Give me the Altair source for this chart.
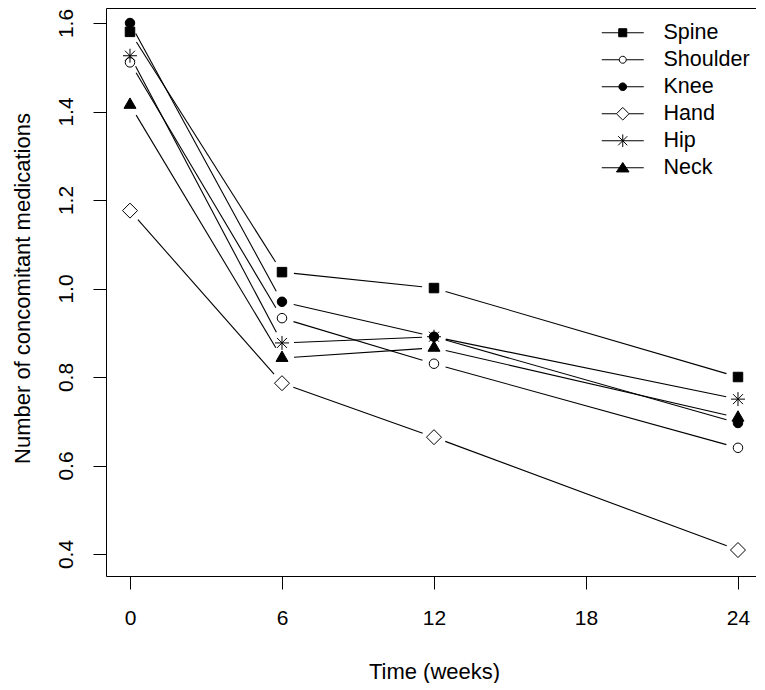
import altair as alt
import pandas as pd

# ---- data ----
sites = ["Spine", "Shoulder", "Knee", "Hand", "Hip", "Neck"]
weeks = [0, 6, 12, 24]
spine = [1.580, 1.037, 1.001, 0.800]
shoulder = [1.511, 0.933, 0.830, 0.640]
knee = [1.600, 0.970, 0.891, 0.696]
hand = [1.176, 0.786, 0.664, 0.409]
hip = [1.526, 0.877, 0.891, 0.750]
neck = [1.415, 0.843, 0.866, 0.708]

x_ticks = [0, 6, 12, 18, 24]
y_ticks = [0.4, 0.6, 0.8, 1.0, 1.2, 1.4, 1.6]

series = {"Spine": spine, "Shoulder": shoulder, "Knee": knee,
          "Hand": hand, "Hip": hip, "Neck": neck}
rows = []
for s in sites:
    for w, v in zip(weeks, series[s]):
        rows.append({"site": s, "week": w, "value": v})
df = pd.DataFrame(rows)

# ---- layout ----
W, H = 650, 568
X_DOM = [-0.947, 24.711]
Y_DOM = [0.3503, 1.6339]
KX = W / (X_DOM[1] - X_DOM[0])
KY = H / (Y_DOM[1] - Y_DOM[0])
GAP = 12  # px gap around points (R type="b")
FONT = "Liberation Sans"

xscale = alt.Scale(domain=X_DOM, nice=False, zero=False)
yscale = alt.Scale(domain=Y_DOM, nice=False, zero=False)

xaxis = alt.Axis(values=x_ticks, format="d", title="Time (weeks)",
                 tickSize=13, labelPadding=35, labelBaseline="alphabetic",
                 labelFlush=False, labelOverlap=False,
                 titleX=328, titleY=102, titleBaseline="alphabetic",
                 titleAlign="center", grid=False, domain=False)
yaxis = alt.Axis(values=y_ticks, format=".1f",
                 title="Number of concomitant medications",
                 tickSize=13, labelAngle=270, labelAlign="center",
                 labelBaseline="alphabetic", labelPadding=21,
                 labelFlush=False, labelOverlap=False,
                 titleX=-77, titleY=280, titleAngle=270,
                 titleAlign="center", titleBaseline="alphabetic",
                 grid=False, domain=False)

base = alt.Chart(df)

# line segments with gaps around the points
segs = base.transform_window(
    nx="lead(week)", ny="lead(value)", groupby=["site"],
    sort=[alt.SortField("week")]
).transform_filter("isValid(datum.nx)").transform_calculate(
    dxp=f"(datum.nx-datum.week)*{KX}",
    dyp=f"(datum.ny-datum.value)*{KY}"
).transform_calculate(
    f=f"{GAP}/sqrt(datum.dxp*datum.dxp+datum.dyp*datum.dyp)"
).transform_calculate(
    x1="datum.week+(datum.nx-datum.week)*datum.f",
    y1="datum.value+(datum.ny-datum.value)*datum.f",
    x2="datum.nx-(datum.nx-datum.week)*datum.f",
    y2="datum.ny-(datum.ny-datum.value)*datum.f",
).mark_rule(color="black", strokeWidth=1.1).encode(
    x=alt.X("x1:Q", scale=xscale, axis=xaxis),
    x2="x2:Q",
    y=alt.Y("y1:Q", scale=yscale, axis=yaxis),
    y2="y2:Q",
)

# plot markers (unit paths, drawn with size 100 -> 5 px per unit)
plot_shapes = [
    "M-0.95,-0.95L0.95,-0.95L0.95,0.95L-0.95,0.95Z",
    "M0.95,0A0.95,0.95 0 1 1 -0.95,0A0.95,0.95 0 1 1 0.95,0Z",
    "M0.95,0A0.95,0.95 0 1 1 -0.95,0A0.95,0.95 0 1 1 0.95,0Z",
    "M-1.5,0L0,-1.5L1.5,0L0,1.5Z",
    "M-1.4,0L1.4,0M0,-1.4L0,1.4M-1,-1L1,1M-1,1L1,-1",
    "M0,-1.39L1.2,0.69L-1.2,0.69Z",
]
fills = ["black", "white", "black", "white", "transparent", "black"]

points = base.mark_point(stroke="black", strokeWidth=1, opacity=1, size=100).encode(
    x=alt.X("week:Q", scale=xscale, axis=xaxis),
    y=alt.Y("value:Q", scale=yscale, axis=yaxis),
    shape=alt.Shape("site:N", scale=alt.Scale(domain=sites, range=plot_shapes), legend=None),
    fill=alt.Fill("site:N", scale=alt.Scale(domain=sites, range=fills), legend=None),
)

# legend symbols: line + marker, like R's legend(lty=1, pch=...)
leg_shapes = [
    "M-6,0L6,0M-1.15,-1.15L1.15,-1.15L1.15,1.15L-1.15,1.15Z",
    "M-6,0L-1,0M1,0L6,0M1,0A1,1 0 1 1 -1,0A1,1 0 1 1 1,0Z",
    "M-6,0L6,0M1.1,0A1.1,1.1 0 1 1 -1.1,0A1.1,1.1 0 1 1 1.1,0Z",
    "M-6,0L-1.8,0M1.8,0L6,0M-1.8,0L0,-1.8L1.8,0L0,1.8Z",
    "M-6,0L6,0M0,-1.8L0,1.8M-1.3,-1.3L1.3,1.3M-1.3,1.3L1.3,-1.3",
    "M-6,0L6,0M0,-1.5L1.8,1.2L-1.8,1.2Z",
]
leg = alt.Legend(orient="none", legendX=506, legendY=14, title=None,
                 symbolSize=49, symbolStrokeWidth=1, symbolOpacity=1,
                 labelOffset=30, rowPadding=4, padding=0, labelLimit=200,
                 labelFont=FONT, labelFontSize=21.5, labelColor="black")

legend_layer = base.transform_filter("datum.week < -100").mark_point(
    stroke="black", strokeWidth=1, opacity=1, size=49
).encode(
    x=alt.X("week:Q", scale=xscale, axis=xaxis),
    y=alt.Y("value:Q", scale=yscale, axis=yaxis),
    shape=alt.Shape("site:N", scale=alt.Scale(domain=sites, range=leg_shapes), legend=leg),
    fill=alt.Fill("site:N", scale=alt.Scale(domain=sites, range=fills), legend=leg),
)

chart = alt.layer(segs, points, legend_layer).resolve_scale(
    shape="independent", fill="independent"
).properties(
    width=W, height=H,
    autosize=alt.AutoSizeParams(type="none"),
    padding={"left": 98, "top": 0, "right": 0, "bottom": 107},
).configure_view(
    stroke="black", strokeWidth=1
).configure_axis(
    labelFont=FONT, labelFontSize=21, labelColor="black",
    titleFont=FONT, titleFontSize=22, titleFontWeight="normal", titleColor="black",
    tickColor="black", tickWidth=1,
)

chart.save("out.html", embed_options={"renderer": "svg", "actions": False})
